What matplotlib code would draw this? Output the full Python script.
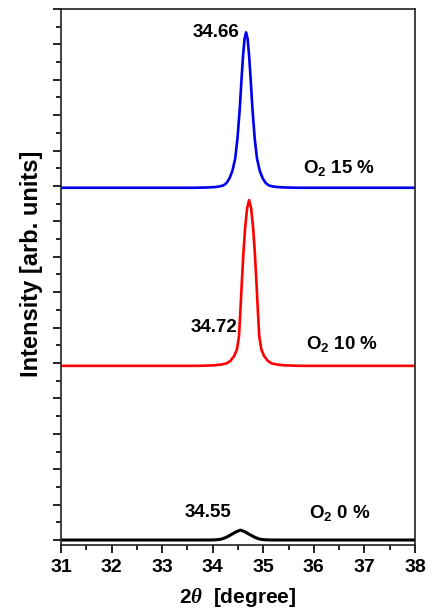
import matplotlib
matplotlib.use("Agg")
import matplotlib.pyplot as plt
from matplotlib.ticker import MultipleLocator, NullFormatter

plt.rcParams['font.family'] = ['Liberation Sans', 'DejaVu Sans']
plt.rcParams['font.weight'] = 'bold'
plt.rcParams['mathtext.fontset'] = 'custom'
plt.rcParams['mathtext.rm'] = 'Liberation Sans:bold'
plt.rcParams['mathtext.bf'] = 'Liberation Sans:bold'
plt.rcParams['mathtext.it'] = 'Liberation Serif:italic'
plt.rcParams['mathtext.default'] = 'rm'

# XRD profiles (2theta in degrees, intensity in arb. units, stacked offsets)
x_o2_0 = [31.0, 33.75, 33.95, 34.02, 34.08, 34.14, 34.19, 34.27, 34.35, 34.40,
          34.47, 34.55, 34.63, 34.70, 34.75, 34.83, 34.91, 34.96, 35.02,
          35.08, 35.15, 35.35, 38.0]
y_o2_0 = [0.0, 0.0, 0.0014, 0.0034, 0.0084, 0.018, 0.034, 0.078, 0.14, 0.18,
          0.238, 0.28, 0.238, 0.18, 0.14, 0.078, 0.034, 0.018, 0.0084,
          0.0034, 0.0014, 0.0, 0.0]

x_o2_10 = [31.0, 33.72, 34.02, 34.17, 34.275, 34.35, 34.425, 34.48, 34.52,
           34.545, 34.575, 34.605, 34.64, 34.68, 34.72, 34.76, 34.80, 34.835,
           34.865, 34.895, 34.92, 34.96, 35.015, 35.09, 35.165, 35.27, 35.42,
           35.72, 38.0]
y_o2_10 = [4.92, 4.92, 4.934, 4.957, 4.99, 5.06, 5.20, 5.388, 5.76,
           6.42, 7.26, 8.06, 8.80, 9.37, 9.60, 9.37, 8.80, 8.06,
           7.26, 6.42, 5.76, 5.388, 5.20, 5.06, 4.99, 4.957, 4.934,
           4.92, 4.92]

x_o2_15 = [31.0, 33.66, 33.91, 34.06, 34.14, 34.21, 34.27, 34.33, 34.39,
           34.445, 34.49, 34.535, 34.57, 34.60, 34.63, 34.66, 34.69, 34.72,
           34.75, 34.785, 34.83, 34.875, 34.93, 34.99, 35.05, 35.11, 35.18,
           35.26, 35.41, 35.66, 38.0]
y_o2_15 = [9.95, 9.95, 9.959, 9.972, 9.99, 10.016, 10.08, 10.21, 10.43,
           10.78, 11.35, 12.19, 13.02, 13.68, 14.16, 14.34, 14.16, 13.68,
           13.02, 12.19, 11.35, 10.78, 10.43, 10.21, 10.08, 10.016, 9.99,
           9.972, 9.959, 9.95, 9.95]

peak_labels = ['34.55', '34.72', '34.66']
sample_labels = [r'O$_2$ 0 %', r'O$_2$ 10 %', r'O$_2$ 15 %']

fig = plt.figure(figsize=(4.33, 6.10), dpi=100)
ax = fig.add_axes([0.1409, 0.1066, 0.8175, 0.8787])

ax.plot(x_o2_0, y_o2_0, color='black', lw=2.2, solid_joinstyle='round')
ax.plot(x_o2_10, y_o2_10, color='#ff0000', lw=1.9, solid_joinstyle='round')
ax.plot(x_o2_15, y_o2_15, color='#0000ee', lw=1.9, solid_joinstyle='round')

ax.set_xlim(31, 38)
ax.set_ylim(-0.14, 15.0)

ax.xaxis.set_major_locator(MultipleLocator(1))
ax.xaxis.set_minor_locator(MultipleLocator(0.5))
ax.yaxis.set_major_locator(MultipleLocator(1))
ax.yaxis.set_minor_locator(MultipleLocator(0.5))
ax.yaxis.set_major_formatter(NullFormatter())

ax.tick_params(which='major', direction='out', length=6, width=1.2,
               labelsize=14, pad=4, top=False, right=False)
ax.tick_params(which='minor', direction='out', length=3.5, width=1.2,
               top=False, right=False)
for lab in ax.get_xticklabels():
    lab.set_fontweight('bold')
for sp in ax.spines.values():
    sp.set_linewidth(1.2)
    sp.set_color('#222222')

ax.set_xlabel(r'2$\mathit{\theta}$  [degree]', fontsize=15, fontweight='bold')
ax.set_ylabel('Intensity [arb. units]', fontsize=17, fontweight='bold')
ax.xaxis.set_label_coords(0.5, -0.076)
ax.yaxis.set_label_coords(-0.05, 0.525)

# peak position labels
ax.text(34.37, 0.66, peak_labels[0], ha='right', va='baseline', fontsize=13.5, fontweight='bold')
ax.text(34.49, 5.87, peak_labels[1], ha='right', va='baseline', fontsize=13.5, fontweight='bold')
ax.text(34.52, 14.20, peak_labels[2], ha='right', va='baseline', fontsize=13.5, fontweight='bold')

# sample labels
ax.text(35.91, 0.63, sample_labels[0], ha='left', va='baseline', fontsize=13.5, fontweight='bold')
ax.text(35.84, 5.40, sample_labels[1], ha='left', va='baseline', fontsize=13.5, fontweight='bold')
ax.text(35.79, 10.37, sample_labels[2], ha='left', va='baseline', fontsize=13.5, fontweight='bold')

fig.savefig('out.png', dpi=100)
